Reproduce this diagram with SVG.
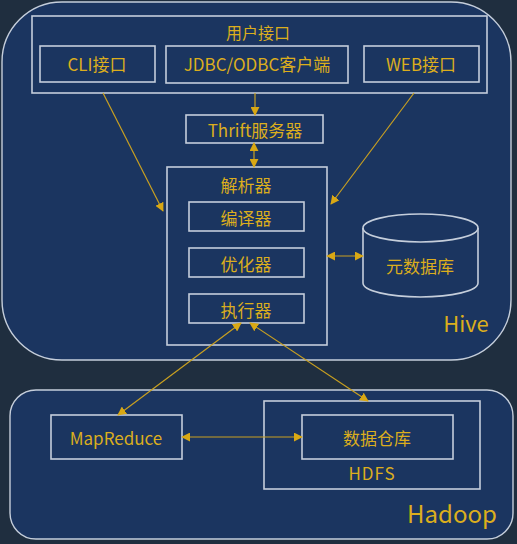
<svg xmlns="http://www.w3.org/2000/svg" width="517" height="544" viewBox="0 0 517 544">
<defs>
<style>
.box{fill:none;stroke:#c5cedb;stroke-width:1.6}
.cont{fill:#1b3560;stroke:#c5cedb;stroke-width:1.4}
.t{font-family:"Noto Sans CJK SC","Noto Sans",sans-serif;fill:#dcae1d;text-anchor:middle;dominant-baseline:central;font-size:17px}
.c{stroke:#c9a020;stroke-width:1.2;fill:none}
</style>
<marker id="ah" viewBox="0 0 10 10" refX="9" refY="5" markerWidth="9" markerHeight="9" markerUnits="userSpaceOnUse" orient="auto-start-reverse">
<path d="M0,0 L10,5 L0,10 z" fill="#d9a814"/>
</marker>
</defs>
<rect width="517" height="544" fill="#1f2e3f"/>
<g id="hive">
<rect class="cont" x="2" y="2" width="509" height="358" rx="60"/>
<text class="t" x="466" y="322" style="font-size:22px">Hive</text>
</g>
<g id="hadoop">
<rect class="cont" x="10" y="390" width="503" height="149" rx="26"/>
<text class="t" x="452" y="512" style="font-size:24px">Hadoop</text>
</g>
<g id="user-interface">
<rect class="box" x="32" y="16" width="455" height="77"/>
<text class="t" x="258" y="32" style="font-size:16px">用户接口</text>
</g>
<g id="cli">
<rect class="box" x="40" y="46" width="115" height="36"/>
<text class="t" x="97" y="63">CLI接口</text>
</g>
<g id="jdbc">
<rect class="box" x="166" y="46" width="182" height="37"/>
<text class="t" x="257" y="63">JDBC/ODBC客户端</text>
</g>
<g id="web">
<rect class="box" x="364" y="46" width="115" height="36"/>
<text class="t" x="421" y="63">WEB接口</text>
</g>
<g id="thrift">
<rect class="box" x="186" y="115" width="137" height="28"/>
<text class="t" x="255" y="129">Thrift服务器</text>
</g>
<g id="parser">
<rect class="box" x="167" y="167" width="160" height="178"/>
<text class="t" x="246" y="184">解析器</text>
</g>
<g id="compiler">
<rect class="box" x="189" y="202" width="115" height="29"/>
<text class="t" x="246" y="217">编译器</text>
</g>
<g id="optimizer">
<rect class="box" x="189" y="248" width="115" height="29"/>
<text class="t" x="246" y="263">优化器</text>
</g>
<g id="executor">
<rect class="box" x="189" y="294" width="115" height="29"/>
<text class="t" x="246" y="309">执行器</text>
</g>
<g id="metastore">
<path class="box" d="M363,228 L363,283 A57.5,14 0 0 0 478,283 L478,228"/>
<ellipse class="box" cx="420.5" cy="228" rx="57.5" ry="14"/>
<text class="t" x="420" y="265">元数据库</text>
</g>
<g id="mapreduce">
<rect class="box" x="51" y="415" width="131" height="44"/>
<text class="t" x="116" y="437">MapReduce</text>
</g>
<g id="hdfs">
<rect class="box" x="264" y="401" width="216" height="88"/>
<text class="t" x="372" y="472" style="letter-spacing:1px">HDFS</text>
</g>
<g id="warehouse">
<rect class="box" x="302" y="415" width="151" height="44"/>
<text class="t" x="377" y="437">数据仓库</text>
</g>
<g id="connectors">
<line class="c" x1="103" y1="93" x2="163" y2="211" marker-end="url(#ah)"/>
<line class="c" x1="414" y1="93" x2="331" y2="204" marker-end="url(#ah)"/>
<line class="c" x1="255" y1="93" x2="255" y2="115" marker-end="url(#ah)"/>
<line class="c" x1="254" y1="143" x2="254" y2="167" marker-start="url(#ah)" marker-end="url(#ah)"/>
<line class="c" x1="327" y1="256" x2="363" y2="256" marker-start="url(#ah)" marker-end="url(#ah)"/>
<line class="c" x1="241" y1="323" x2="118" y2="415" marker-start="url(#ah)" marker-end="url(#ah)"/>
<line class="c" x1="250" y1="323" x2="368" y2="401" marker-start="url(#ah)" marker-end="url(#ah)"/>
<line class="c" x1="182" y1="437" x2="302" y2="437" marker-start="url(#ah)" marker-end="url(#ah)"/>
</g>
</svg>
